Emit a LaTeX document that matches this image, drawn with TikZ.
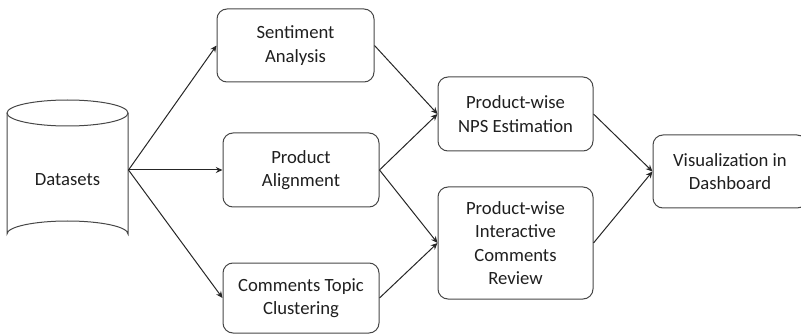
\documentclass[tikz,border=0pt]{standalone}
\usepackage{fontspec}
\setmainfont{Carlito}
\usetikzlibrary{arrows.meta}

\tikzset{every picture/.style={line width=0.75pt}}
\tikzset{
  stage/.style={draw=black!72, rounded corners=7.5pt, align=center, inner sep=0pt,
    text=black!88, font=\fontsize{14}{17.5}\selectfont},
  link/.style={draw=black!85, -{Stealth[length=5pt,width=4.5pt]}},
}

\begin{document}
\begin{tikzpicture}[x=0.75pt,y=0.75pt,yscale=-1,xscale=1]
\useasboundingbox (0,0) rectangle (801,335);

% Datasets cylinder
\draw [draw=black!72] (67.5,113) ellipse [x radius=60.5, y radius=13];
\draw [draw=black!72] (7,113) -- (7,234) arc [start angle=180, end angle=360, x radius=60.5, y radius=13] -- (128,113);
\node [text=black!88, font=\fontsize{14}{17.5}\selectfont] (data) at (67.5,180) {Datasets};
\coordinate (data out) at (128.5,170);

% Text Node
\node [stage, minimum width=117.75pt, minimum height=54.75pt] (sa) at (295.5,45.5) {Sentiment\\Analysis};
% Text Node
\node [stage, minimum width=117pt, minimum height=55.5pt] (pa) at (301,170) {Product\\Alignment};
% Text Node
\node [stage, minimum width=117pt, minimum height=52.5pt] (ct) at (301,298) {Comments Topic\\Clustering};
% Text Node
\node [stage, minimum width=116.25pt, minimum height=55.5pt] (nps) at (515.5,114) {Product-wise\\NPS Estimation};
% Text Node
\node [stage, minimum width=116.25pt, minimum height=84pt] (icr) at (515.5,243) {Product-wise\\Interactive\\Comments\\Review};
% Text Node
\node [stage, minimum width=115.5pt, minimum height=54.75pt] (viz) at (730,171.5) {Visualization in\\Dashboard};

% Connection
\draw [link] (data out) -- (sa.west);
\draw [link] (data out) -- (pa.west);
\draw [link] (data out) -- (ct.west);
% Connection
\draw [link] (sa.east) -- (nps.west);
\draw [link] (pa.east) -- (nps.west);
\draw [link] (pa.east) -- (icr.west);
\draw [link] (ct.east) -- (icr.west);
% Connection
\draw [link] (nps.east) -- (viz.west);
\draw [link] (icr.east) -- (viz.west);

\end{tikzpicture}
\end{document}
